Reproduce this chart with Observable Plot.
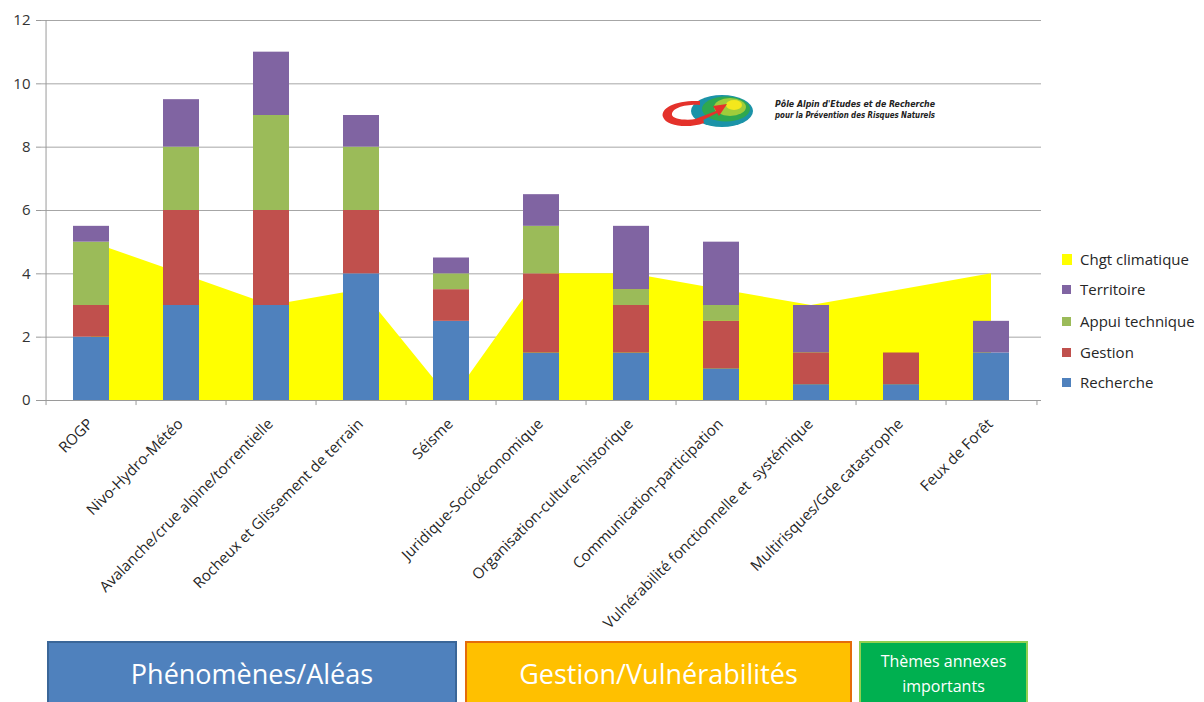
<!DOCTYPE html>
<html>
<head>
<meta charset="utf-8">
<script src="https://cdn.jsdelivr.net/npm/d3@7"></script>
<script src="https://cdn.jsdelivr.net/npm/@observablehq/plot@0.6"></script>
<style>
  html, body { margin: 0; padding: 0; background: #fff; }
  #wrap { position: relative; width: 1204px; height: 702px; overflow: hidden; font-family: "Open Sans", "Noto Sans", sans-serif; }
  #chart { position: absolute; left: 0; top: 0; }
  .legend { position: absolute; left: 1062px; top: 0; }
  .litem { position: absolute; left: 0; display: flex; align-items: center; white-space: nowrap; font-size: 15px; color: #262626; }
  .lsw { width: 9px; height: 9px; margin-right: 9px; }
  .box { position: absolute; top: 641px; height: 70px; box-sizing: border-box; color: #fff; display: flex; align-items: center; justify-content: center; text-align: center; }
  #logo { position: absolute; left: 0; top: 0; }
</style>
</head>
<body>
<div id="wrap">
  <div id="chart"></div>
  <svg id="logo" width="1204" height="702"></svg>
  <div class="legend" id="legend"></div>
  <div class="box" style="left:47px;width:410px;background:#4F81BD;border:2px solid #3A6698;font-size:27px;padding-bottom:6px;">Phénomènes/Aléas</div>
  <div class="box" style="left:465px;width:387px;background:#FFC000;border:2px solid #E46C0A;font-size:27px;padding-bottom:6px;">Gestion/Vulnérabilités</div>
  <div class="box" style="left:859px;width:169px;background:#00B050;border:2px solid #92D050;font-size:16px;line-height:25px;align-items:flex-start;padding-top:6px;">Thèmes annexes<br>importants</div>
</div>
<script>
const categories = [
  "ROGP",
  "Nivo-Hydro-Météo",
  "Avalanche/crue alpine/torrentielle",
  "Rocheux et Glissement de terrain",
  "Séisme",
  "Juridique-Socioéconomique",
  "Organisation-culture-historique",
  "Communication-participation",
  "Vulnérabilité fonctionnelle et  systémique",
  "Multirisques/Gde catastrophe",
  "Feux de Forêt"
];
const recherche  = [2, 3, 3, 4, 2.5, 1.5, 1.5, 1, 0.5, 0.5, 1.5];
const gestion    = [1, 3, 3, 2, 1, 2.5, 1.5, 1.5, 1, 1, 0];
const appui      = [2, 2, 3, 2, 0.5, 1.5, 0.5, 0.5, 0, 0, 0];
const territoire = [0.5, 1.5, 2, 1, 0.5, 1, 2, 2, 1.5, 0, 1];
const chgtClimatique = [5, 4, 3, 3.5, 0, 4, 4, 3.5, 3, 3.5, 4];
const yTicks = [0, 2, 4, 6, 8, 10, 12];

const seriesNames = ["Recherche", "Gestion", "Appui technique", "Territoire"];
const seriesValues = [recherche, gestion, appui, territoire];
const seriesColors = ["#4F81BD", "#C0504D", "#9BBB59", "#8064A2"];
const areaName = "Chgt climatique";
const areaColor = "#FFFF00";

const barData = [];
seriesNames.forEach((s, i) => categories.forEach((c, j) => barData.push({cat: c, series: s, value: seriesValues[i][j]})));
const areaData = categories.map((c, j) => ({cat: c, value: chgtClimatique[j]}));

const W = 1204, mL = 41, mR = 163;
const step = (W - mL - mR) / categories.length;
const font = "'Open Sans', 'Noto Sans', sans-serif";

const chart = Plot.plot({
  width: W,
  height: 640,
  marginLeft: mL,
  marginRight: mR,
  marginTop: 20,
  marginBottom: 240,
  style: {fontFamily: font, background: "transparent", overflow: "visible"},
  x: {domain: categories, paddingInner: 0.6, paddingOuter: 0.3, axis: null},
  y: {domain: [0, 12], axis: null, label: null},
  color: {domain: seriesNames, range: seriesColors},
  marks: [
    Plot.gridY(yTicks.filter(d => d > 0), {stroke: "#a6a6a6", strokeOpacity: 1, strokeWidth: 1}),
    Plot.areaY(areaData, {x: "cat", y: "value", fill: areaColor, curve: "linear"}),
    Plot.barY(barData, {x: "cat", y: "value", fill: "series", order: null}),
    Plot.ruleY([0], {stroke: "#9a9a9a"}),
    Plot.ruleX([categories[0]], {dx: -step / 2, y1: 0, y2: 12, stroke: "#9a9a9a"}),
    Plot.ruleX(categories, {dx: -step / 2, y1: 0, y2: -0.16, stroke: "#9a9a9a"}),
    Plot.ruleX([categories[categories.length - 1]], {dx: step / 2, y1: 0, y2: -0.16, stroke: "#9a9a9a"}),
    Plot.axisY({ticks: yTicks, label: null, tickSize: 5, tickPadding: 6, fontSize: 15, color: "#333", stroke: "#9a9a9a"}),
    Plot.text(categories, {x: d => d, y: 0, text: d => d, rotate: -45, textAnchor: "end", dx: -1, dy: 21, fontSize: 15, fill: "#262626"})
  ]
});
document.getElementById("chart").append(chart);

// Legend
const legend = document.getElementById("legend");
const legendItems = [[areaName, areaColor]].concat(seriesNames.map((s, i) => [s, seriesColors[i]]).reverse());
const legendY = [259, 289, 321, 352, 382];
legendItems.forEach(([name, col], i) => {
  const d = document.createElement("div");
  d.className = "litem";
  d.style.top = (legendY[i] - 10) + "px";
  d.style.height = "20px";
  const sw = document.createElement("span");
  sw.className = "lsw";
  sw.style.background = col;
  if (i === 0) { sw.style.width = "10px"; sw.style.height = "11px"; sw.style.marginRight = "8px"; }
  d.append(sw, document.createTextNode(name));
  legend.append(d);
});

// Logo (decorative)
const logo = d3.select("#logo");
const g = logo.append("g");
g.append("ellipse").attr("cx", 722).attr("cy", 111).attr("rx", 31).attr("ry", 16).attr("fill", "#1b93a8");
g.append("ellipse").attr("cx", 726).attr("cy", 109).attr("rx", 24).attr("ry", 12.5).attr("fill", "#2fa84f");
g.append("ellipse").attr("cx", 730).attr("cy", 107).attr("rx", 16).attr("ry", 9).attr("fill", "#9fcc3b");
g.append("ellipse").attr("cx", 734).attr("cy", 105).attr("rx", 8).attr("ry", 5).attr("fill", "#f4e81c");
g.append("path")
  .attr("d", "M700,101 C676,100 660,108 663,117 C666,126 688,129 704,123 L703,118 C690,121 673,120 672,115 C671,108 686,104 700,105 Z")
  .attr("fill", "#e4322b");
g.append("path")
  .attr("d", "M690,121 L716,111 L713,106 L727,104 L719,116 L717,113 L693,125 Z")
  .attr("fill", "#e4322b");
logo.append("text").attr("x", 775).attr("y", 107).attr("textLength", 160).attr("lengthAdjust", "spacingAndGlyphs")
  .attr("font-family", "'Liberation Sans Narrow', 'DejaVu Sans Condensed', sans-serif").attr("font-weight", "bold").attr("font-style", "italic")
  .attr("font-size", 9).attr("fill", "#222").text("Pôle Alpin d'Etudes et de Recherche");
logo.append("text").attr("x", 775).attr("y", 118).attr("textLength", 160).attr("lengthAdjust", "spacingAndGlyphs")
  .attr("font-family", "'Liberation Sans Narrow', 'DejaVu Sans Condensed', sans-serif").attr("font-weight", "bold").attr("font-style", "italic")
  .attr("font-size", 9).attr("fill", "#222").text("pour la Prévention des Risques Naturels");
</script>
</body>
</html>
